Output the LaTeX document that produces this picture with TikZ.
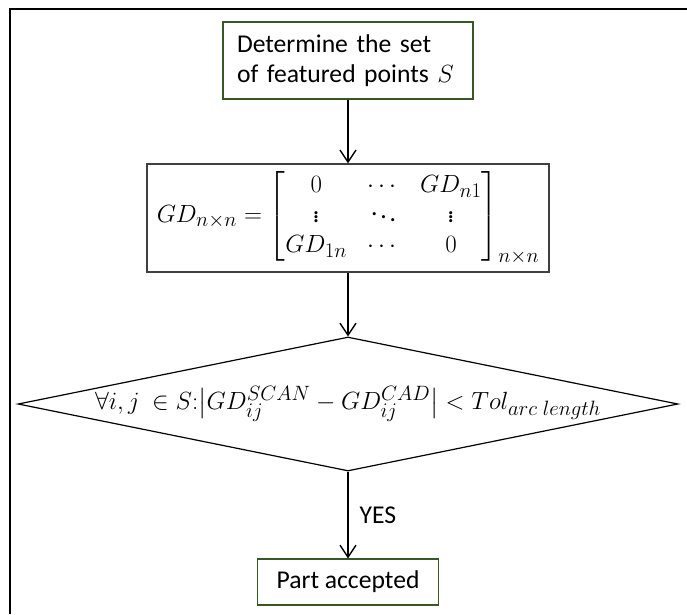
\documentclass[tikz,border=0pt]{standalone}
\usepackage{amsmath,amssymb}
\usepackage{fontspec}
\setmainfont{Carlito}[Scale=1.03]
\usepackage{tikz}
\usetikzlibrary{arrows.meta,positioning,shapes.geometric}

\definecolor{boxgreen}{HTML}{385723}
\definecolor{boxgray}{HTML}{404040}

\begin{document}
\begin{tikzpicture}[x=1pt,y=-1pt,
    every node/.style={font=\Huge},
    stepbox/.style={draw=boxgreen,line width=1.2pt,inner sep=0pt},
    mathbox/.style={draw=boxgray,line width=1.4pt,inner sep=0pt},
    testbox/.style={draw=black,line width=1.2pt,diamond,inner sep=0pt},
    flow/.style={-{Straight Barb[length=12pt,width=16pt]},line width=1.4pt}]
  \useasboundingbox (0,0) rectangle (687,614);
  % page frame
  \draw[line width=2.5pt] (10,614) -- (10,9) -- (687,9);

  \node[stepbox,minimum width=250pt,minimum height=77pt,text width=222pt,align=left]
    (determine) at (348,60.5) {Determine the set\\of featured points $S$};
  \node[mathbox,minimum width=402pt,minimum height=108pt]
    (gdmatrix) at (348,218)
    {$GD_{n\times n}=\arraycolsep=10pt
      \begin{bmatrix}0&\cdots&GD_{n1}\\ \vdots&\ddots&\vdots\\ GD_{1n}&\cdots&0\end{bmatrix}_{n\times n}$};
  \node[testbox,minimum width=660pt,minimum height=134pt]
    (check) at (348,404)
    {\makebox[0pt]{$\forall i,j\ \in S{:}\bigl|GD_{ij}^{SCAN}-GD_{ij}^{CAD}\bigr|<Tol_{arc\ length}$}};
  \node[stepbox,minimum width=181pt,minimum height=46pt]
    (accepted) at (348,582) {Part accepted};

  \draw[flow] (determine) -- (gdmatrix);
  \draw[flow] (gdmatrix) -- (check);
  \draw[flow] (check.south) -- node[right,inner sep=11pt] {YES} (accepted.north);
\end{tikzpicture}
\end{document}
